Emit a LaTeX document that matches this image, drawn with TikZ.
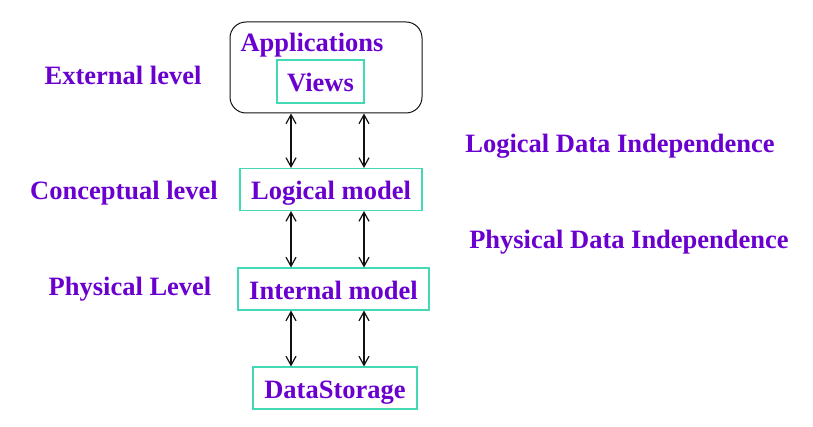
\documentclass[tikz,border=0pt]{standalone}
\usepackage{fontspec}
\setmainfont{Liberation Serif}
\usetikzlibrary{arrows.meta}
\definecolor{lvlpurple}{HTML}{6A00CF}
\definecolor{lvlteal}{HTML}{44D9B5}
\definecolor{lvlink}{HTML}{111111}

\begin{document}
\begin{tikzpicture}[
  x=1pt, y=-1pt,
  font=\rmfamily\bfseries\fontsize{26.5}{30}\selectfont,
  lbl/.style={text=lvlpurple, inner sep=0pt, anchor=base},
  modelbox/.style={
    draw=lvlteal, line width=1.1pt, text=lvlpurple, inner sep=0pt,
    text height=21pt, text depth=0pt
  },
  appbox/.style={draw=lvlink, line width=1pt, rounded corners=16pt},
  link/.style={draw=lvlink, line width=1.2pt, {Straight Barb[length=9pt,width=10pt]}-{Straight Barb[length=9pt,width=10pt]}},
]
\useasboundingbox (0,0) rectangle (813,427);

% ---- connector columns ----
\coordinate (xl) at (291,0);
\coordinate (xr) at (364,0);

% ---- external level ----
\node[appbox, minimum width=192pt, minimum height=91pt] (apps) at (326,67.5) {};
\node[lbl] (appst) at (312,52) {Applications};
\node[modelbox, minimum width=87pt, minimum height=43pt] (views) at (320.5,81.5) {Views};

% ---- model boxes ----
\node[modelbox, minimum width=182pt, minimum height=42pt] (logic) at (331,189.5) {Logical model};
\node[modelbox, minimum width=191pt, minimum height=42pt] (intern) at (333.5,289) {Internal model};
\node[modelbox, minimum width=164pt, minimum height=42pt] (store) at (335,388) {DataStorage};

% ---- level labels ----
\node[lbl] (extl)  at (123,85)  {External level};
\node[lbl] (conl)  at (124,200) {Conceptual level};
\node[lbl] (phyl)  at (130,296) {Physical Level};
\node[lbl] (ldi)   at (620,153) {Logical Data Independence};
\node[lbl] (pdi)   at (629,249) {Physical Data Independence};

% ---- mappings ----
\draw[link] (apps.south -| xl)   -- (logic.north -| xl);
\draw[link] (apps.south -| xr)   -- (logic.north -| xr);
\draw[link] (logic.south -| xl)  -- (intern.north -| xl);
\draw[link] (logic.south -| xr)  -- (intern.north -| xr);
\draw[link] (intern.south -| xl) -- (store.north -| xl);
\draw[link] (intern.south -| xr) -- (store.north -| xr);

\end{tikzpicture}
\end{document}
